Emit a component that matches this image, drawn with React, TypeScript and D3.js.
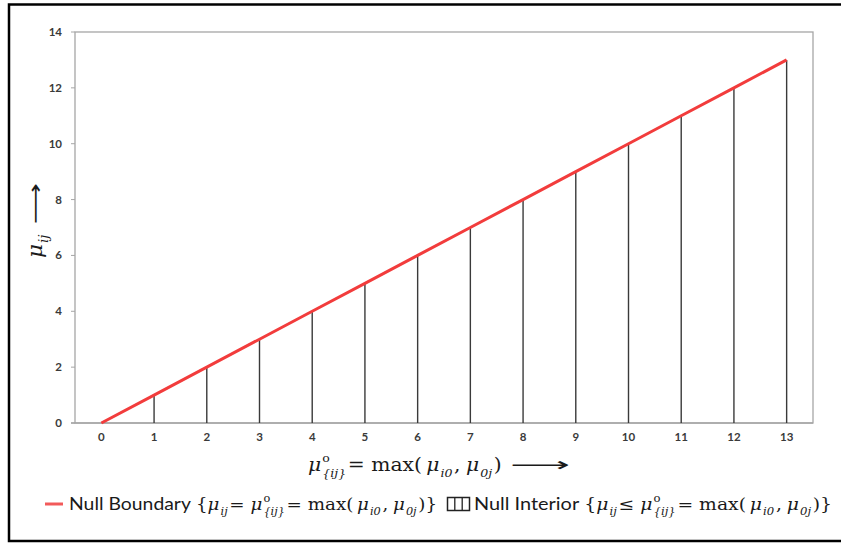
import React from "react";
import * as d3 from "d3";

const categories = ["0", "1", "2", "3", "4", "5", "6", "7", "8", "9", "10", "11", "12", "13"];
const boundaryValues = [0, 1, 2, 3, 4, 5, 6, 7, 8, 9, 10, 11, 12, 13];
const interiorValues = [0, 1, 2, 3, 4, 5, 6, 7, 8, 9, 10, 11, 12, 13];
const yTicks = [0, 2, 4, 6, 8, 10, 12, 14];

const W = 841, H = 543;
const M = { left: 75, right: 813, top: 32, bottom: 423 };

const SERIF = "'DejaVu Serif', 'Liberation Serif', serif";
const SANS = "Lato, 'Open Sans', sans-serif";
const ARROWF = "'DejaVu Sans', sans-serif";

let _ctx: CanvasRenderingContext2D | null = null;
function measure(t: string, size: number, family: string, italic: boolean, bold = false) {
  if (!_ctx) _ctx = document.createElement("canvas").getContext("2d");
  if (!_ctx) return t.length * size * 0.5;
  _ctx.font = `${italic ? "italic " : ""}${bold ? "bold " : ""}${size}px ${family}`;
  return _ctx.measureText(t).width;
}

type Tok =
  | { t: string; it?: boolean; sans?: boolean; kern?: number }
  | { sup?: string; sub?: string }
  | { arrow: number };

type Item = { t: string; x: number; dy: number; size: number; family: string; it: boolean; len?: number };

function layout(toks: Tok[], size: number, sansSize?: number) {
  const items: Item[] = [];
  let x = 0;
  const ss = size * 0.62;
  for (const tk of toks) {
    if ("arrow" in tk) {
      items.push({ t: "⟶", x: x + 2, dy: 0, size, family: ARROWF, it: false, len: tk.arrow });
      x += tk.arrow + 2;
    } else if ("t" in tk) {
      const fam = tk.sans ? SANS : SERIF;
      const sz = tk.sans ? sansSize ?? size : size;
      x += tk.kern ?? 0;
      items.push({ t: tk.t, x, dy: 0, size: sz, family: fam, it: !!tk.it });
      x += measure(tk.t, sz, fam, !!tk.it);
    } else {
      let w = 0;
      if (tk.sup) {
        items.push({ t: tk.sup, x: x + 1, dy: -size * 0.5, size: ss, family: SERIF, it: false });
        w = Math.max(w, measure(tk.sup, ss, SERIF, false) + 1);
      }
      if (tk.sub) {
        items.push({ t: tk.sub, x: x + 1, dy: size * 0.3, size: ss, family: SERIF, it: true });
        w = Math.max(w, measure(tk.sub, ss, SERIF, true) + 1);
      }
      x += w + 1.5;
    }
  }
  return { items, width: x };
}

function MathText({ toks, x, y, size, sansSize, fit, color = "#1a1a1a" }: { toks: Tok[]; x: number; y: number; size: number; sansSize?: number; fit?: number; color?: string }) {
  const { items, width } = layout(toks, size, sansSize);
  const s = fit ? fit / width : 1;
  return (
    <g transform={`translate(${x},${y}) scale(${s},1)`}>
      {items.map((it, i) => (
        <text
          key={i}
          x={it.x}
          y={it.dy}
          fontSize={it.size}
          fontFamily={it.family}
          fontStyle={it.it ? "italic" : "normal"}
          fill={color}
          {...(it.len ? { textLength: it.len, lengthAdjust: "spacingAndGlyphs" } : {})}
        >
          {it.t}
        </text>
      ))}
    </g>
  );
}

const muO: Tok[] = [{ t: "μ", it: true }, { sup: "o", sub: "{ij}" }];
const maxPart: Tok[] = [
  { t: " = max(" },
  { t: "μ", it: true, kern: -2 },
  { sub: "i0" },
  { t: ", " },
  { t: "μ", it: true, kern: -1 },
  { sub: "0j" },
  { t: ")" },
];

export default function App() {
  const x = d3.scaleBand<string>().domain(categories).range([M.left, M.right]).padding(0);
  const cx = (c: string) => (x(c) ?? 0) + x.bandwidth() / 2;
  const y = d3.scaleLinear().domain([0, 14]).range([M.bottom, M.top]);
  const line = d3
    .line<number>()
    .x((_, i) => cx(categories[i]))
    .y((d) => y(d));

  const xTitle: Tok[] = [...muO, ...maxPart, { t: " " }, { arrow: 56 }];
  const yTitle: Tok[] = [{ t: "μ", it: true }, { sub: "ij" }, { t: " " }, { arrow: 38 }];
  const leg1: Tok[] = [
    { t: "Null Boundary ", sans: true },
    { t: "{" },
    { t: "μ", it: true },
    { sub: "ij" },
    { t: "= " },
    ...muO,
    ...maxPart,
    { t: "}" },
  ];
  const leg2: Tok[] = [
    { t: "Null Interior ", sans: true },
    { t: "{" },
    { t: "μ", it: true },
    { sub: "ij" },
    { t: "≤ " },
    ...muO,
    ...maxPart,
    { t: "}" },
  ];

  return (
    <svg width={W} height={H} style={{ position: "absolute", left: 0, top: 0 }}>
      <rect x={0} y={0} width={W} height={H} fill="#fff" />
      <rect x={9} y={4.5} width={W + 10} height={536.5} fill="none" stroke="#000" strokeWidth={2.5} />
      {/* plot frame */}
      <rect x={M.left} y={M.top} width={M.right - M.left} height={M.bottom - M.top} fill="none" stroke="#a6a6a6" strokeWidth={1.3} />
      {/* y ticks */}
      {yTicks.map((t) => (
        <g key={t}>
          <line x1={71} x2={M.left} y1={y(t)} y2={y(t)} stroke="#a6a6a6" strokeWidth={1} />
          <text x={62} y={y(t)} dy="0.35em" textAnchor="end" fontSize={11.5} fontWeight="bold" fontFamily={SANS} fill="#3a3a3a">
            {t}
          </text>
        </g>
      ))}
      {/* x axis */}
      <line x1={71} x2={M.right} y1={M.bottom} y2={M.bottom} stroke="#a6a6a6" strokeWidth={1.3} />
      {categories.map((c) => (
        <text key={c} x={cx(c)} y={437} dy="0.35em" textAnchor="middle" fontSize={11.5} fontWeight="bold" fontFamily={SANS} fill="#3a3a3a">
          {c}
        </text>
      ))}
      {/* interior lines */}
      {interiorValues.map((v, i) =>
        v > 0 ? (
          <line key={i} x1={cx(categories[i])} x2={cx(categories[i])} y1={y(0)} y2={y(v)} stroke="#3a3a3a" strokeWidth={1.4} />
        ) : null
      )}
      {/* boundary line */}
      <path d={line(boundaryValues) ?? ""} fill="none" stroke="#f23c3c" strokeWidth={3} />
      {/* axis titles */}
      <MathText toks={xTitle} x={308} y={471} size={19} fit={262} />
      <g transform="translate(42,258) rotate(-90)">
        <MathText toks={yTitle} x={0} y={0} size={20} fit={75} />
      </g>
      {/* legend */}
      <line x1={45} x2={63} y1={504} y2={504} stroke="#f25a5a" strokeWidth={3} />
      <MathText toks={leg1} x={69} y={510} size={16.5} sansSize={17.5} fit={368} />
      <rect x={447.5} y={497.5} width={22} height={13} fill="none" stroke="#222" strokeWidth={1.5} />
      <line x1={454.8} x2={454.8} y1={497.5} y2={510.5} stroke="#222" strokeWidth={1.3} />
      <line x1={462.2} x2={462.2} y1={497.5} y2={510.5} stroke="#222" strokeWidth={1.3} />
      <MathText toks={leg2} x={474} y={510} size={16.5} sansSize={17.5} fit={358} />
    </svg>
  );
}
